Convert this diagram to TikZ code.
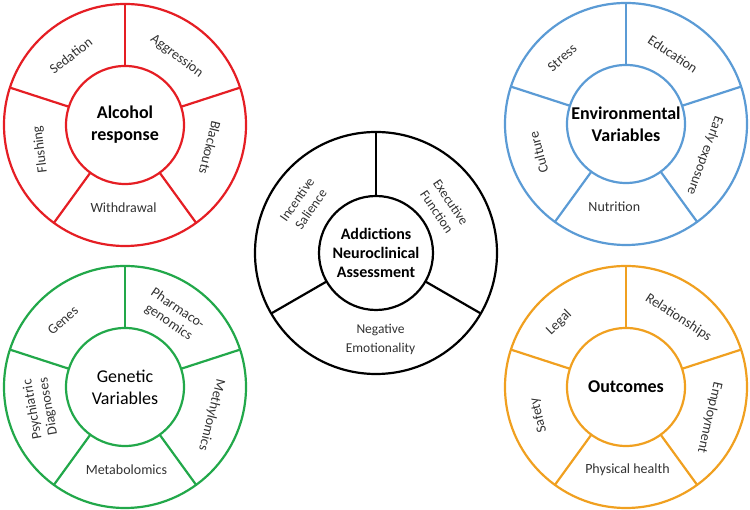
\documentclass[tikz,border=0pt]{standalone}
\usepackage{fontspec}
\setmainfont{Carlito}
\definecolor{cred}{RGB}{229,30,36}
\definecolor{cblue}{RGB}{91,155,213}
\definecolor{cgreen}{RGB}{34,168,74}
\definecolor{corange}{RGB}{240,160,32}
\definecolor{labgray}{RGB}{50,50,50}
\tikzset{
  ring/.style={circle, draw, line width=2.2pt, inner sep=0pt, outer sep=0pt, minimum size=242pt},
  hub/.style={circle, draw, line width=2.2pt, inner sep=0pt, outer sep=0pt, minimum size=118pt,
    align=center, text=black, font=\fontsize{18}{22}\selectfont},
  hubb/.style={hub, font=\fontsize{18}{22}\selectfont\bfseries},
  divider/.style={line width=2.2pt},
  lab/.style={font=\fontsize{14}{16}\selectfont, text=labgray, align=center, inner sep=0pt},
}
\begin{document}
\begin{tikzpicture}[x=1pt,y=1pt]
\useasboundingbox (0,0) rectangle (750,510);
% ---------- Alcohol response (red) ----------
\begin{scope}[color=cred]
\node[ring] (r-out) at (125,385) {};
\node[hubb] (r-in) at (125,385) {Alcohol\\response};
\foreach \a in {90,18,-54,-126,162} \draw[divider] (r-in.\a) -- (r-out.\a);
\end{scope}
\node[lab, rotate=-37] (r-agg) at ([shift={(53:86)}]r-in.center) {Aggression};
\node[lab, rotate=38] (r-sed) at ([shift={(128:88)}]r-in.center) {Sedation};
\node[lab, rotate=-104] (r-bla) at ([shift={(-15:88)}]r-in.center) {Blackouts};
\node[lab, rotate=0] (r-wit) at ([shift={(-91:83)}]r-in.center) {Withdrawal};
\node[lab, rotate=97] (r-flu) at ([shift={(196:88)}]r-in.center) {Flushing};
% ---------- Environmental Variables (blue) ----------
\begin{scope}[color=cblue]
\node[ring] (e-out) at (626,386) {};
\node[hubb] (e-in) at (626,386) {Environmental\\Variables};
\foreach \a in {90,18,-54,-126,162} \draw[divider] (e-in.\a) -- (e-out.\a);
\end{scope}
\node[lab, rotate=-34] (e-edu) at ([shift={(56:84)}]e-in.center) {Education};
\node[lab, rotate=42] (e-str) at ([shift={(134:92)}]e-in.center) {Stress};
\node[lab, rotate=-110] (e-ear) at ([shift={(-22:85)}]e-in.center) {Early exposure};
\node[lab, rotate=0] (e-nut) at ([shift={(-98:84)}]e-in.center) {Nutrition};
\node[lab, rotate=105] (e-cul) at ([shift={(198:92)}]e-in.center) {Culture};
% ---------- Genetic Variables (green) ----------
\begin{scope}[color=cgreen]
\node[ring] (g-out) at (125,123) {};
\node[hub] (g-in) at (125,123) {Genetic\\Variables};
\foreach \a in {90,18,-54,-126,162} \draw[divider] (g-in.\a) -- (g-out.\a);
\end{scope}
\node[lab, rotate=-34] (g-pha) at ([shift={(56:86)}]g-in.center) {Pharmaco-\\genomics};
\node[lab, rotate=42] (g-gen) at ([shift={(133:91)}]g-in.center) {Genes};
\node[lab, rotate=-104] (g-met) at ([shift={(-18:91)}]g-in.center) {Methylomics};
\node[lab, rotate=0] (g-mtb) at ([shift={(-89:83)}]g-in.center) {Metabolomics};
\node[lab, rotate=100] (g-psy) at ([shift={(194:87)}]g-in.center) {Psychiatric\\Diagnoses};
% ---------- Outcomes (orange) ----------
\begin{scope}[color=corange]
\node[ring] (o-out) at (626,123) {};
\node[hubb] (o-in) at (626,123) {Outcomes};
\foreach \a in {90,18,-54,-126,162} \draw[divider] (o-in.\a) -- (o-out.\a);
\end{scope}
\node[lab, rotate=-33] (o-rel) at ([shift={(53:87)}]o-in.center) {Relationships};
\node[lab, rotate=44] (o-leg) at ([shift={(136:93)}]o-in.center) {Legal};
\node[lab, rotate=-103] (o-emp) at ([shift={(-20:89)}]o-in.center) {Employment};
\node[lab, rotate=0] (o-phy) at ([shift={(-89:83)}]o-in.center) {Physical health};
\node[lab, rotate=104] (o-saf) at ([shift={(198:92)}]o-in.center) {Safety};
% ---------- Central (black) ----------
\node[ring, color=black] (c-out) at (376,257) {};
\node[hub, minimum size=114pt, font=\fontsize{16}{19}\selectfont\bfseries] (c-in) at (376,257) {Addictions\\Neuroclinical\\Assessment};
\foreach \a in {90,210,330} \draw[divider] (c-in.\a) -- (c-out.\a);
\node[lab, font=\fontsize{13.5}{17}\selectfont, rotate=55] (c-inc) at ([shift={(146:87)}]c-in.center) {Incentive\\Salience};
\node[lab, font=\fontsize{13.5}{17}\selectfont, rotate=-56] (c-exe) at ([shift={(34:82)}]c-in.center) {Executive\\Function};
\node[lab, font=\fontsize{13.5}{19}\selectfont, rotate=0] (c-neg) at ([shift={(-87:87)}]c-in.center) {Negative\\Emotionality};
\end{tikzpicture}
\end{document}
